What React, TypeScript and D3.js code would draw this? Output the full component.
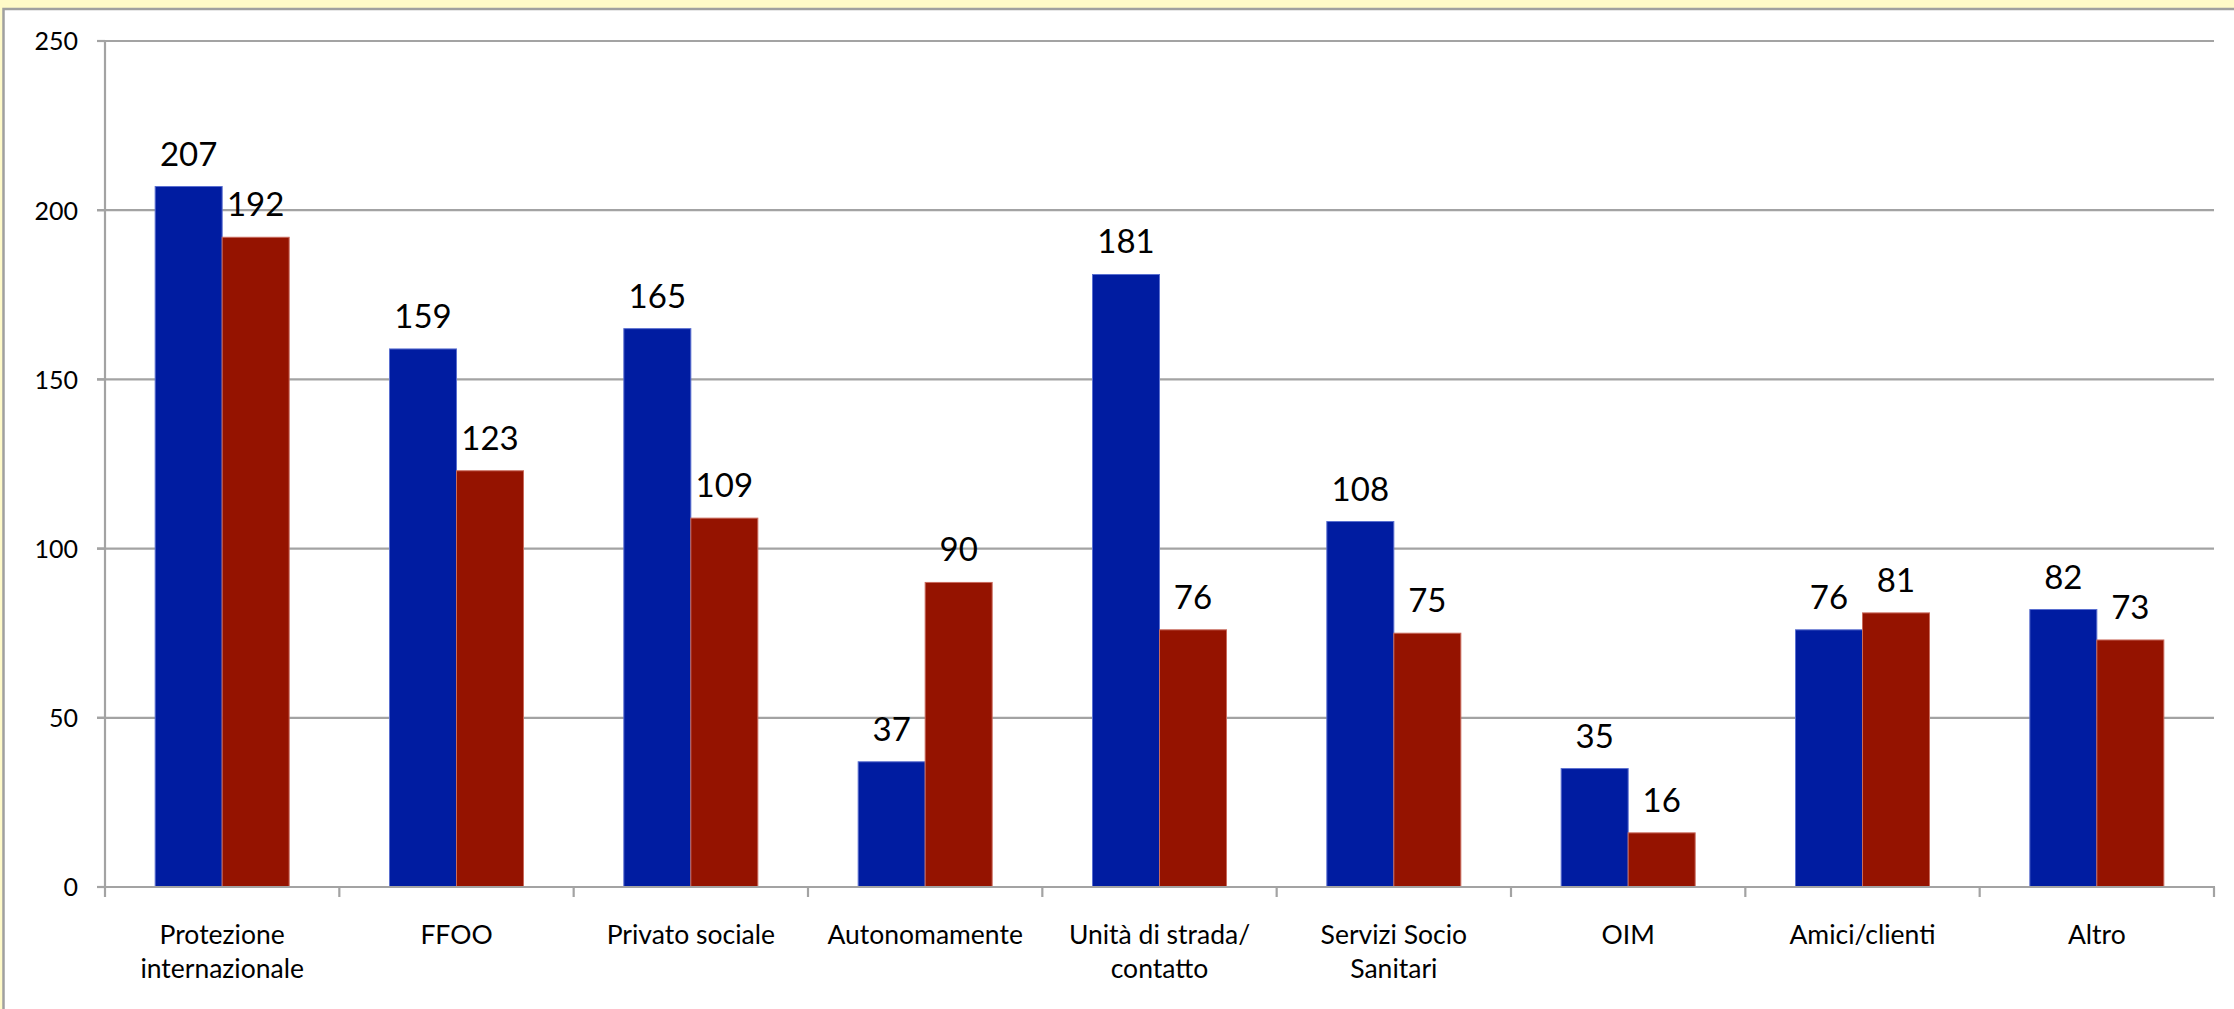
import React, { useEffect, useRef } from "react";
import * as d3 from "d3";

const categories = [
  "Protezione\ninternazionale",
  "FFOO",
  "Privato sociale",
  "Autonomamente",
  "Unità di strada/\ncontatto",
  "Servizi Socio\nSanitari",
  "OIM",
  "Amici/clienti",
  "Altro",
];
const seriesBlue = [207, 159, 165, 37, 181, 108, 35, 76, 82];
const seriesRed = [192, 123, 109, 90, 76, 75, 16, 81, 73];
const yTicks = [0, 50, 100, 150, 200, 250];

const W = 2234;
const H = 1009;
const FONT = "Lato, 'Open Sans', sans-serif";

export default function App() {
  const ref = useRef<SVGSVGElement>(null);

  useEffect(() => {
    const svg = d3.select(ref.current);
    svg.selectAll("*").remove();

    // frame
    svg.append("rect").attr("x", 0).attr("y", 0).attr("width", W).attr("height", H).attr("fill", "#fffac8");
    svg.append("rect").attr("x", 3.5).attr("y", 9).attr("width", W + 20).attr("height", H + 20)
      .attr("fill", "#ffffff").attr("stroke", "#a0a0a0").attr("stroke-width", 2.5);

    const left = 105, right = 2214, top = 41, bottom = 887;
    const x = d3.scaleBand<number>().domain(d3.range(categories.length)).range([left, right]).paddingInner(0).paddingOuter(0);
    const y = d3.scaleLinear().domain([0, 250]).range([bottom, top]);
    const bw = x.bandwidth();
    const barW = 67;
    const gap = (bw - 2 * barW) / 2;

    // gridlines
    svg.append("g").selectAll("line").data(yTicks.filter((t) => t > 0)).join("line")
      .attr("x1", left - 8).attr("x2", right)
      .attr("y1", (d) => y(d)).attr("y2", (d) => y(d))
      .attr("stroke", "#a3a3a3").attr("stroke-width", 2.2);

    // y tick marks
    svg.append("g").selectAll("line").data(yTicks).join("line")
      .attr("x1", left - 8).attr("x2", left)
      .attr("y1", (d) => y(d)).attr("y2", (d) => y(d))
      .attr("stroke", "#a3a3a3").attr("stroke-width", 2.2);

    // y labels
    svg.append("g").selectAll("text").data(yTicks).join("text")
      .attr("x", 78).attr("y", (d) => y(d) + 3)
      .attr("text-anchor", "end").attr("dominant-baseline", "middle")
      .attr("font-family", FONT).attr("font-size", 25).attr("fill", "#000")
      .text((d) => String(d));

    // bars
    const g = svg.append("g");
    categories.forEach((_, i) => {
      const x0 = (x(i) as number) + gap;
      [[seriesBlue[i], "#001ca1", "#5a6fd0"], [seriesRed[i], "#951300", "#c96a5c"]].forEach(([v, fill, edge], k) => {
        const val = v as number;
        const bx = x0 + k * barW;
        g.append("rect")
          .attr("x", bx).attr("y", y(val)).attr("width", barW).attr("height", bottom - y(val))
          .attr("fill", fill as string).attr("stroke", edge as string).attr("stroke-width", 1);
        g.append("text")
          .attr("x", bx + barW / 2).attr("y", y(val) - 21)
          .attr("text-anchor", "middle")
          .attr("font-family", FONT).attr("font-size", 33).attr("fill", "#000")
          .text(String(val));
      });
    });

    // axes lines
    svg.append("line").attr("x1", left).attr("x2", left).attr("y1", top).attr("y2", bottom + 1)
      .attr("stroke", "#a3a3a3").attr("stroke-width", 2.2);
    svg.append("line").attr("x1", left - 8).attr("x2", right + 1).attr("y1", bottom).attr("y2", bottom)
      .attr("stroke", "#a3a3a3").attr("stroke-width", 2.2);

    // x tick marks
    svg.append("g").selectAll("line").data(d3.range(categories.length + 1)).join("line")
      .attr("x1", (d) => left + d * bw).attr("x2", (d) => left + d * bw)
      .attr("y1", bottom).attr("y2", bottom + 10)
      .attr("stroke", "#a3a3a3").attr("stroke-width", 2.2);

    // category labels
    const cl = svg.append("g");
    categories.forEach((c, i) => {
      const cx = (x(i) as number) + bw / 2;
      c.split("\n").forEach((line, li) => {
        cl.append("text")
          .attr("x", cx).attr("y", 944 + li * 34)
          .attr("text-anchor", "middle")
          .attr("font-family", FONT).attr("font-size", 26.5).attr("fill", "#000")
          .text(line);
      });
    });
  }, []);

  return (
    <svg
      ref={ref}
      width={W}
      height={H}
      style={{ position: "absolute", left: 0, top: 0, display: "block" }}
    />
  );
}
